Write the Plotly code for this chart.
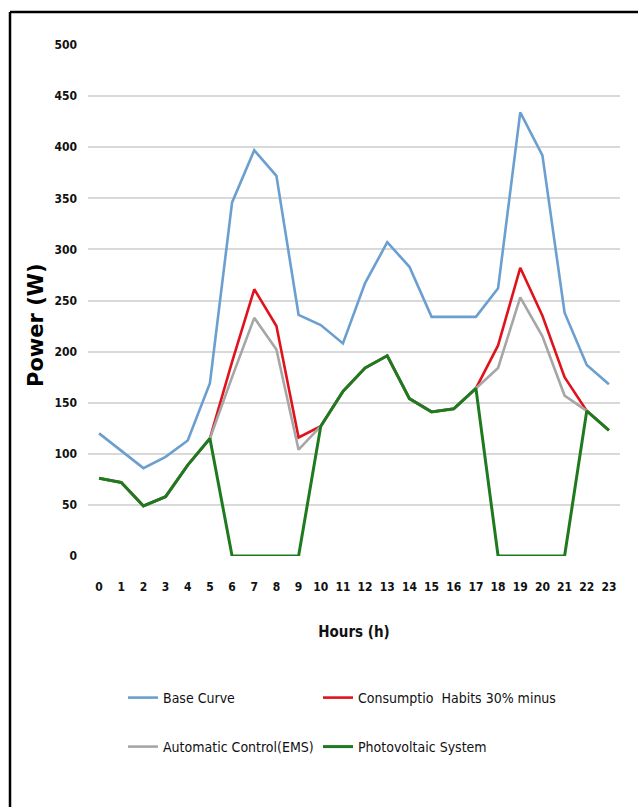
import plotly.graph_objects as go

hours = list(range(24))
hour_labels = [str(h) for h in hours]

base_curve = [120, 103, 86, 97, 113, 169, 346, 397, 372, 236, 226, 208,
              267, 307, 283, 234, 234, 234, 262, 434, 392, 238, 187, 168]
habits_30 = [76, 72, 49, 58, 89, 115, 190, 261, 225, 116, 127, 161,
             184, 196, 154, 141, 144, 164, 206, 282, 235, 175, 142, 123]
ems = [76, 72, 49, 58, 89, 115, 175, 233, 202, 104, 127, 161,
       184, 196, 154, 141, 144, 164, 184, 253, 215, 157, 142, 123]
photovoltaic = [76, 72, 49, 58, 89, 115, 0, 0, 0, 0, 127, 161,
                184, 196, 154, 141, 144, 164, 0, 0, 0, 0, 142, 123]

names = ["Base Curve", "Consumptio\u00a0 Habits 30% minus",
         "Automatic Control(EMS)", "Photovoltaic System"]
colors = ["#6b9fd0", "#e0131c", "#a6a6a6", "#1f7a1f"]
widths = [2.6, 2.6, 2.6, 3.0]
legend_ids = ["legend", "legend2", "legend3", "legend4"]
series = [base_curve, habits_30, ems, photovoltaic]

fig = go.Figure()
for name, vals, c, w, lg in zip(names, series, colors, widths, legend_ids):
    fig.add_trace(go.Scatter(x=hour_labels, y=vals, mode="lines", name=name,
                             line=dict(color=c, width=w), legend=lg))

narrow = "DejaVu Sans Condensed, Liberation Sans Narrow, sans-serif"

W, H = 638, 807
L, R, T, B = 88, 18, 45, 251
pw = W - L - R
ph = H - T - B
def px_x(p):
    return (p - L) / pw
def px_y(p):
    return (H - B - p) / ph

legend_pos = [(123, 698), (318, 698), (123, 747), (318, 747)]
legend_layout = {}
for lg, (lx, ly) in zip(legend_ids, legend_pos):
    legend_layout[lg] = dict(x=px_x(lx), y=px_y(ly), xanchor="left", yanchor="middle",
                             orientation="h",
                             font=dict(family=narrow, size=14, color="#111"),
                             bgcolor="rgba(0,0,0,0)")

fig.update_layout(
    width=W, height=H,
    margin=dict(l=L, r=R, t=T, b=B),
    paper_bgcolor="white", plot_bgcolor="white",
    showlegend=True,
    xaxis=dict(type="category", range=[-0.5, 23.5], showgrid=False, showline=False,
               zeroline=False,
               tickfont=dict(family=narrow, size=12, color="#111", weight="bold"),
               ticks="", ticklabelstandoff=22,
               title=dict(text="Hours (h)", standoff=33,
                          font=dict(family=narrow, size=15, color="#111", weight="bold"))),
    yaxis=dict(range=[0, 500], dtick=50, showgrid=True, gridcolor="#d9d9d9", gridwidth=1.5,
               zeroline=False, showline=False, ticks="", ticklabelstandoff=10,
               tickfont=dict(family=narrow, size=12, color="#111", weight="bold")),
    annotations=[
        dict(text="<b>Power (W)</b>", xref="paper", yref="paper", x=px_x(36), y=px_y(325),
             textangle=-90, showarrow=False, xanchor="center", yanchor="middle",
             font=dict(family="DejaVu Sans", size=21, color="#000")),
    ],
    shapes=[
        dict(type="line", xref="paper", yref="paper", x0=px_x(10), x1=px_x(660),
             y0=px_y(12), y1=px_y(12), line=dict(color="black", width=2.5)),
        dict(type="line", xref="paper", yref="paper", x0=px_x(10), x1=px_x(10),
             y0=px_y(12), y1=px_y(830), line=dict(color="black", width=2.5)),
    ],
    **legend_layout,
)

fig.write_html("out.html", config={"displayModeBar": False},
               post_script="document.body.style.margin='0';document.body.style.overflow='hidden';")
